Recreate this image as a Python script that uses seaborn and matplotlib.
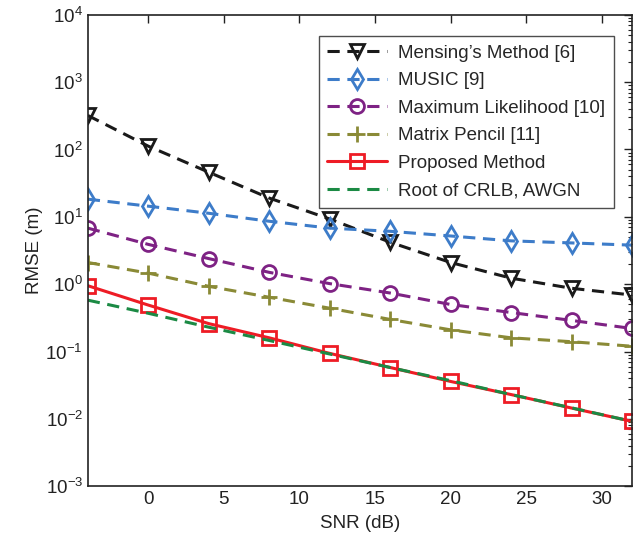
import seaborn as sns
import matplotlib.pyplot as plt
import pandas as pd
from matplotlib.ticker import LogLocator, NullFormatter

# =========================
# data
# =========================

snr = [-4, 0, 4, 8, 12, 16, 20, 24, 28, 32]

mensing = [320, 112, 46, 19, 9.3, 4.2, 2.1, 1.23, 0.87, 0.69]
music = [18.3, 14.4, 11.3, 8.6, 6.8, 6.1, 5.2, 4.4, 4.1, 3.8]
max_lik = [6.8, 3.9, 2.4, 1.5, 1.02, 0.74, 0.50, 0.38, 0.29, 0.22]
pencil = [2.1, 1.46, 0.93, 0.64, 0.44, 0.30, 0.21, 0.16, 0.14, 0.12]
proposed = [0.95, 0.49, 0.26, 0.16, 0.094, 0.058, 0.036, 0.023, 0.0145, 0.0092]
crlb = [0.58, 0.37, 0.23, 0.146, 0.092, 0.058, 0.037, 0.023, 0.0146, 0.0092]

series = [
    ("Mensing\u2019s Method [6]", mensing, "#1a1a1a", "v", (4, 2.5)),
    ("MUSIC [9]", music, "#3d7cc9", "d", (4, 2.5)),
    ("Maximum Likelihood [10]", max_lik, "#7e2284", "o", (4, 2.5)),
    ("Matrix Pencil [11]", pencil, "#8a8a36", "+", (4, 2.5)),
    ("Proposed Method", proposed, "#ee1c25", "s", None),
    ("Root of CRLB, AWGN", crlb, "#1b8a44", None, (4, 2.5)),
]

# =========================
# plot
# =========================

sns.set_style("white")
plt.rcParams["font.family"] = ["Liberation Sans", "DejaVu Sans"]
plt.rcParams["mathtext.fontset"] = "custom"
plt.rcParams["mathtext.rm"] = "Liberation Sans"

fig = plt.figure(figsize=(6.41, 5.47), dpi=100)
ax = fig.add_axes([0.137, 0.111, 0.849, 0.862])

for label, vals, color, marker, dash in series:
    df = pd.DataFrame({"snr": snr, "rmse": vals})
    sns.lineplot(
        data=df, x="snr", y="rmse", ax=ax, color=color, label=label,
        marker=marker if marker else "", markersize=10 if marker != "+" else 12,
        markerfacecolor="none" if marker not in (None, "+") else color,
        markeredgecolor=color, markeredgewidth=2, linewidth=2.2,
    )
    if dash is not None:
        ax.lines[-1].set_dashes(dash)

ax.set_yscale("log")
ax.set_xlim(-4, 32)
ax.set_ylim(1e-3, 1e4)
ax.set_xticks([0, 5, 10, 15, 20, 25, 30])
ax.yaxis.set_major_locator(LogLocator(base=10, numticks=10))
ax.yaxis.set_minor_locator(LogLocator(base=10, subs=range(2, 10), numticks=20))
ax.yaxis.set_minor_formatter(NullFormatter())

ax.tick_params(axis="both", which="both", direction="in", top=True, right=True,
               labelsize=13.5, colors="#222222")
ax.tick_params(which="major", length=6, width=1)
ax.tick_params(which="minor", length=3, width=0.8)
for sp in ax.spines.values():
    sp.set_color("#222222")
    sp.set_linewidth(1.2)

ax.set_xlabel("SNR (dB)", fontsize=13.5, color="#222222", labelpad=5)
ax.set_ylabel("RMSE (m)", fontsize=13.5, color="#222222", labelpad=2)

leg = ax.legend(loc="upper right", fontsize=13.5, frameon=True, fancybox=False,
                edgecolor="#222222", handlelength=3.2, borderpad=0.45,
                labelspacing=0.55, handletextpad=0.6,
                bbox_to_anchor=(0.984, 0.974))
leg.get_frame().set_linewidth(1)

fig.savefig("out.png", dpi=100)
